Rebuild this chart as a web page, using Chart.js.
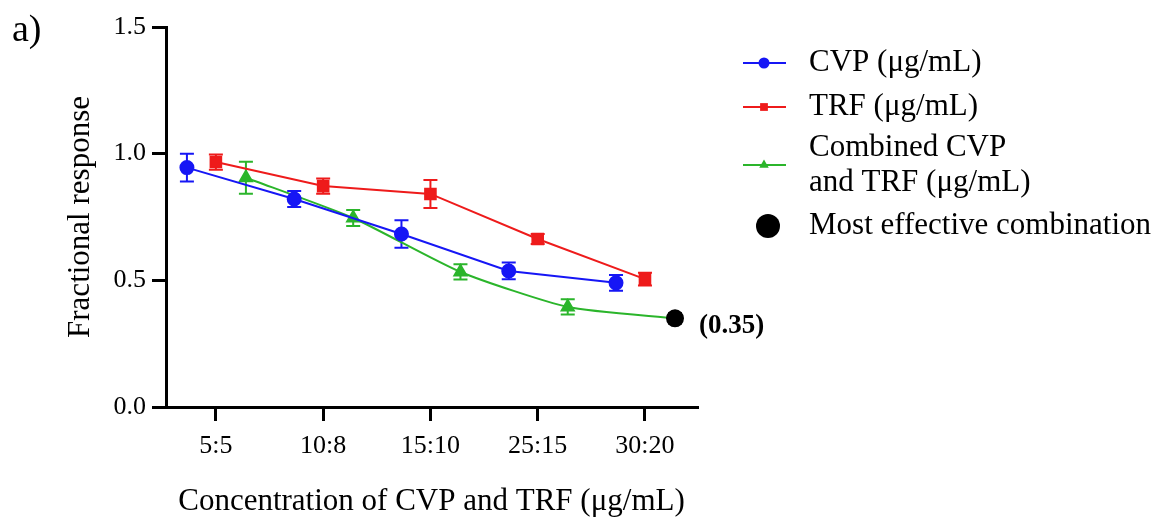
<!DOCTYPE html>
<html>
<head>
<meta charset="utf-8">
<script src="https://cdn.jsdelivr.net/npm/chart.js@4.4.1/dist/chart.umd.min.js"></script>
<style>
  html, body { margin: 0; padding: 0; background: #fff; }
  #wrap { width: 1172px; height: 520px; }
</style>
</head>
<body>
<div id="wrap"><canvas id="myChart" width="1172" height="520"></canvas></div>
<script>
// data
const doseLabels = ['5:5', '10:8', '15:10', '25:15', '30:20'];
const cvpValues = [0.945, 0.821, 0.683, 0.537, 0.490];
const cvpErrors = [0.055, 0.032, 0.054, 0.033, 0.031];
const trfValues = [0.967, 0.872, 0.841, 0.663, 0.505];
const trfErrors = [0.030, 0.030, 0.055, 0.020, 0.025];
const comboValues = [0.905, 0.746, 0.533, 0.395, 0.350];
const comboErrors = [0.063, 0.032, 0.030, 0.030, 0.020];
const bestIndex = 4; // most effective combination

const SERIF = "'Liberation Serif', 'Times New Roman', serif";
const BLUE = '#1616f5';
const RED = '#ee1b1b';
const GREEN = '#2bb52b';

// series are nudged sideways around each dose tick
const toPoints = (vals, shift) => vals.map((v, i) => ({ x: i + 1 + shift, y: v }));

const errorBars = {
  id: 'errorBars',
  beforeDatasetsDraw(chart) {
    const { ctx, scales: { x, y } } = chart;
    chart.data.datasets.forEach(ds => {
      if (!ds.errors) return;
      ctx.save();
      ctx.lineWidth = 2;
      ds.data.forEach((p, i) => {
        const e = ds.errors[i];
        const px = x.getPixelForValue(p.x);
        const top = y.getPixelForValue(p.y + e);
        const bot = y.getPixelForValue(p.y - e);
        ctx.strokeStyle = i === bestIndex && ds.best ? '#000' : ds.borderColor;
        ctx.beginPath();
        ctx.moveTo(px, top); ctx.lineTo(px, bot);
        ctx.moveTo(px - 7, top); ctx.lineTo(px + 7, top);
        ctx.moveTo(px - 7, bot); ctx.lineTo(px + 7, bot);
        ctx.stroke();
      });
      ctx.restore();
    });
  }
};

const extras = {
  id: 'extras',
  afterDraw(chart) {
    const { ctx, scales: { x, y } } = chart;
    ctx.save();
    ctx.fillStyle = '#000';
    ctx.textBaseline = 'middle';

    // panel letter
    ctx.font = '38px ' + SERIF;
    ctx.textAlign = 'left';
    ctx.fillText('a)', 12, 31);

    // value label next to the best point
    const best = chart.data.datasets[2].data[bestIndex];
    ctx.font = 'bold 27px ' + SERIF;
    ctx.fillText('(' + best.y.toFixed(2) + ')',
      x.getPixelForValue(best.x) + 24, y.getPixelForValue(best.y) + 8);

    // legend
    const rows = [
      { ds: 0, lines: ['CVP (\u03bcg/mL)'], y: 63 },
      { ds: 1, lines: ['TRF (\u03bcg/mL)'], y: 107 },
      { ds: 2, lines: ['Combined CVP', 'and TRF (\u03bcg/mL)'], y: 165 },
      { ds: null, lines: ['Most effective combination'], y: 226 }
    ];
    ctx.font = '31px ' + SERIF;
    rows.forEach(r => {
      if (r.ds !== null) {
        const d = chart.data.datasets[r.ds];
        ctx.strokeStyle = d.borderColor;
        ctx.lineWidth = 2;
        ctx.beginPath();
        ctx.moveTo(743, r.y); ctx.lineTo(786, r.y);
        ctx.stroke();
        ctx.fillStyle = d.borderColor;
        Chart.helpers.drawPoint(ctx, {
          pointStyle: d.legendStyle, radius: 5.5, rotation: 0, borderWidth: 0
        }, 764, r.y);
      } else {
        ctx.fillStyle = '#000';
        Chart.helpers.drawPoint(ctx, {
          pointStyle: 'circle', radius: 12, rotation: 0, borderWidth: 0
        }, 768, r.y);
      }
      ctx.fillStyle = '#000';
      const lh = 35;
      const y0 = r.y - (r.lines.length - 1) * lh / 2;
      r.lines.forEach((t, k) => ctx.fillText(t, 809, y0 + k * lh));
    });
    ctx.restore();
  }
};

new Chart(document.getElementById('myChart'), {
  type: 'line',
  data: {
    datasets: [
      {
        label: 'CVP (\u03bcg/mL)',
        data: toPoints(cvpValues, -0.27),
        errors: cvpErrors,
        borderColor: BLUE, backgroundColor: BLUE,
        borderWidth: 2, pointStyle: 'circle', pointRadius: 6.5,
        legendStyle: 'circle'
      },
      {
        label: 'TRF (\u03bcg/mL)',
        data: toPoints(trfValues, 0),
        errors: trfErrors,
        borderColor: RED, backgroundColor: RED,
        borderWidth: 2, pointStyle: 'rect', pointRadius: 7.5,
        legendStyle: 'rect'
      },
      {
        label: 'Combined CVP and TRF (\u03bcg/mL)',
        data: toPoints(comboValues, 0.28),
        errors: comboErrors,
        best: true,
        borderColor: GREEN, backgroundColor: GREEN,
        borderWidth: 2, tension: 0.2,
        pointStyle: comboValues.map((_, i) => i === bestIndex ? 'circle' : 'triangle'),
        pointRadius: comboValues.map((_, i) => i === bestIndex ? 8 : 7),
        pointBackgroundColor: comboValues.map((_, i) => i === bestIndex ? '#000' : GREEN),
        pointBorderColor: comboValues.map((_, i) => i === bestIndex ? '#000' : GREEN),
        legendStyle: 'triangle'
      }
    ]
  },
  options: {
    responsive: false,
    animation: false,
    devicePixelRatio: 1,
    layout: { padding: { top: 27, right: 475, bottom: 0, left: 0 } },
    plugins: { legend: { display: false }, tooltip: { enabled: false } },
    scales: {
      x: {
        type: 'linear',
        min: 0.535,
        max: 5.485,
        afterBuildTicks: s => { s.ticks = doseLabels.map((_, i) => ({ value: i + 1 })); },
        afterFit: s => { s.height = 113; },
        ticks: {
          callback: v => doseLabels[v - 1],
          color: '#000',
          font: { family: SERIF, size: 26 },
          padding: 10,
          maxRotation: 0
        },
        grid: { drawOnChartArea: false, drawTicks: true, tickLength: 14, tickColor: '#000', lineWidth: 3 },
        border: { display: true, color: '#000', width: 3 },
        title: {
          display: true,
          text: 'Concentration of CVP and TRF (\u03bcg/mL)',
          color: '#000',
          font: { family: SERIF, size: 31 },
          padding: { top: 5, bottom: 0 }
        }
      },
      y: {
        min: 0,
        max: 1.5,
        afterFit: s => { s.width = 166; },
        ticks: {
          stepSize: 0.5,
          callback: v => v.toFixed(1),
          color: '#000',
          font: { family: SERIF, size: 26 },
          padding: 6
        },
        grid: { drawOnChartArea: false, drawTicks: true, tickLength: 14, tickColor: '#000', lineWidth: 3 },
        border: { display: true, color: '#000', width: 3 },
        title: {
          display: true,
          text: 'Fractional response',
          color: '#000',
          font: { family: SERIF, size: 31 },
          padding: { top: 62, bottom: 0 }
        }
      }
    }
  },
  plugins: [errorBars, extras]
});
</script>
</body>
</html>
